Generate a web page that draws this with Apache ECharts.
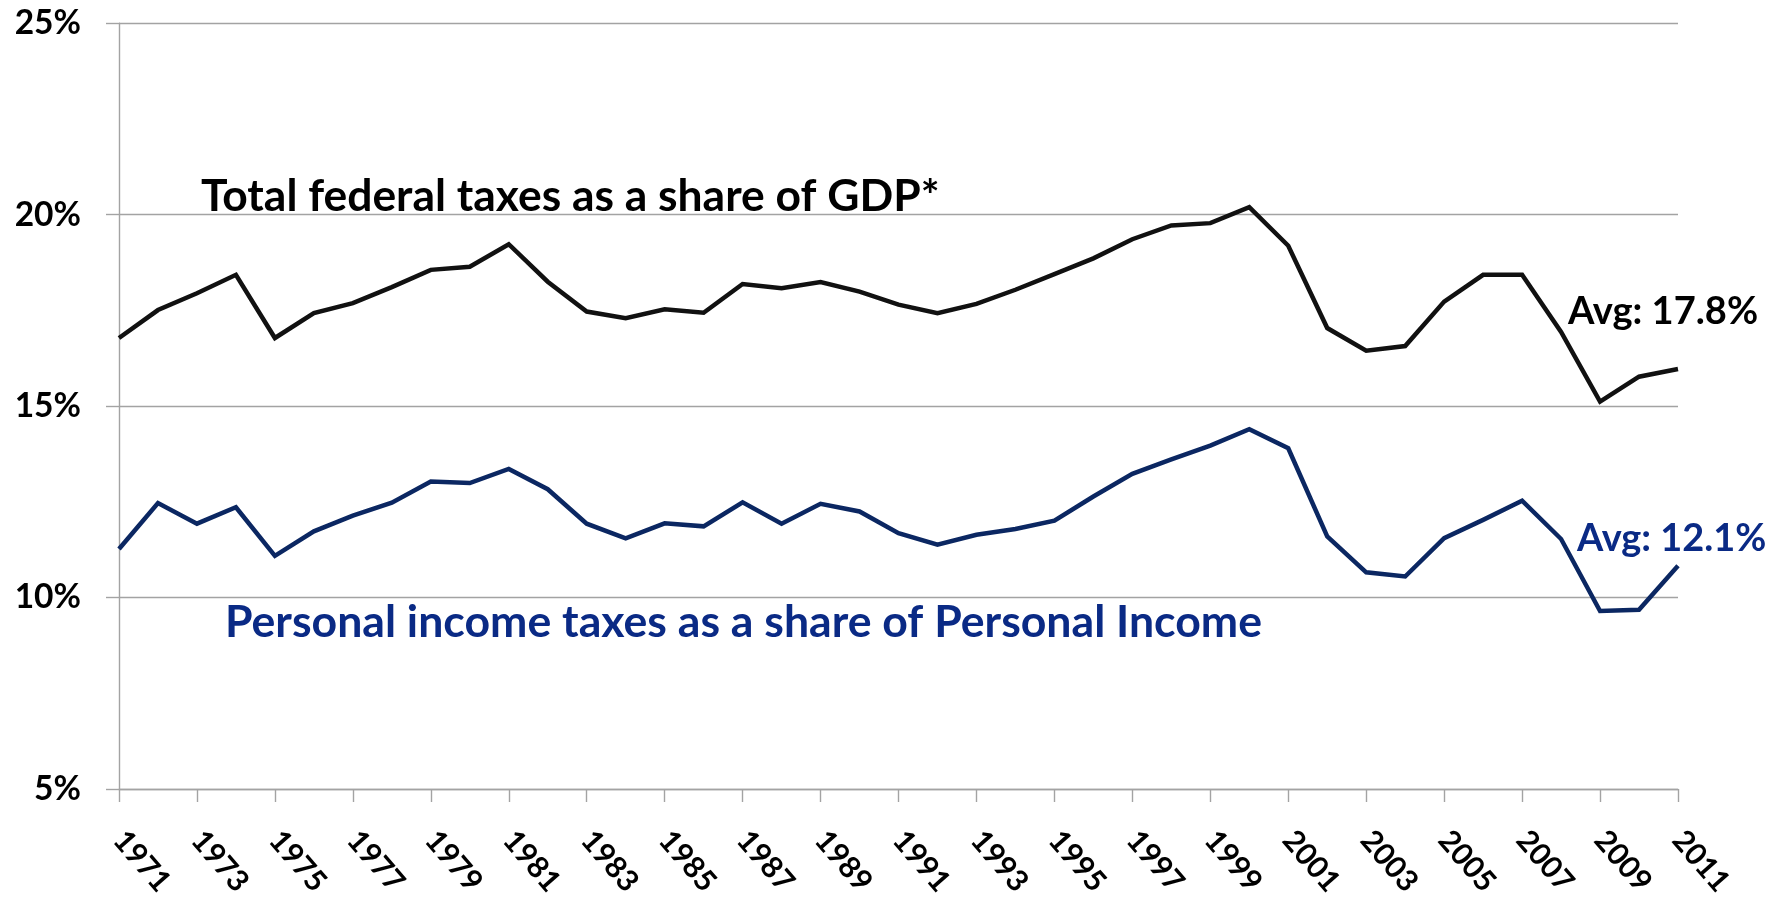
<!DOCTYPE html>
<html>
<head>
<meta charset="utf-8">
<script src="https://cdn.jsdelivr.net/npm/echarts@6/dist/echarts.min.js"></script>
<style>
html,body{margin:0;padding:0;background:#ffffff;}
#chart{width:1777px;height:905px;}
</style>
</head>
<body>
<div id="chart"></div>
<script>
const years = ['1971','1972','1973','1974','1975','1976','1977','1978','1979','1980',
  '1981','1982','1983','1984','1985','1986','1987','1988','1989','1990',
  '1991','1992','1993','1994','1995','1996','1997','1998','1999','2000',
  '2001','2002','2003','2004','2005','2006','2007','2008','2009','2010','2011'];

const totalTaxShare = [16.78, 17.51, 17.95, 18.43, 16.78, 17.43, 17.69, 18.11, 18.56, 18.64,
  19.23, 18.25, 17.47, 17.30, 17.53, 17.44, 18.19, 18.08, 18.24, 17.99,
  17.65, 17.43, 17.67, 18.04, 18.45, 18.86, 19.36, 19.72, 19.78, 20.20,
  19.19, 17.04, 16.45, 16.57, 17.73, 18.43, 18.43, 16.94, 15.12, 15.77, 15.97];

const personalTaxShare = [11.27, 12.47, 11.93, 12.36, 11.09, 11.73, 12.14, 12.48, 13.03, 12.99,
  13.36, 12.83, 11.93, 11.55, 11.94, 11.86, 12.49, 11.93, 12.45, 12.25,
  11.68, 11.38, 11.64, 11.79, 12.01, 12.64, 13.23, 13.61, 13.97, 14.40,
  13.90, 11.60, 10.66, 10.55, 11.55, 12.03, 12.53, 11.53, 9.65, 9.68, 10.83];

const yMin = 5, yMax = 25, yStep = 5;
const labelTotal = 'Total federal taxes as a share of GDP*';
const labelPersonal = 'Personal income taxes as a share of Personal Income';
const avgTotal = 'Avg: 17.8%';
const avgPersonal = 'Avg: 12.1%';

const FONT = 'Lato';
const BLACK = '#111111';
const NAVY_LINE = '#0b2762';
const NAVY_TEXT = '#0a2a85';
const GRAY = '#a3a3a3';

const chart = echarts.init(document.getElementById('chart'), null, {renderer: 'canvas'});
chart.setOption({
  animation: false,
  backgroundColor: '#ffffff',
  grid: {left: 119, right: 99, top: 23.3, bottom: 116, containLabel: false, outerBoundsMode: 'none'},
  xAxis: {
    type: 'category',
    data: years,
    boundaryGap: false,
    axisLine: {show: true, onZero: false, lineStyle: {color: GRAY, width: 1.4}},
    axisTick: {show: true, interval: 1, length: 13, lineStyle: {color: GRAY, width: 1.4}},
    axisLabel: {
      interval: 1, rotate: -49, margin: 46,
      fontFamily: FONT, fontWeight: 'bold', fontSize: 30, color: '#000'
    },
    splitLine: {show: false}
  },
  yAxis: {
    type: 'value',
    min: yMin, max: yMax, interval: yStep,
    axisLine: {show: true, lineStyle: {color: GRAY, width: 1.4}},
    axisTick: {show: true, length: 13, lineStyle: {color: GRAY, width: 1.4}},
    axisLabel: {
      formatter: '{value}%', margin: 38,
      fontFamily: FONT, fontWeight: 'bold', fontSize: 33.5, color: '#000'
    },
    splitLine: {show: true, lineStyle: {color: GRAY, width: 1.4}}
  },
  series: [
    {
      name: labelTotal, type: 'line', data: totalTaxShare,
      showSymbol: false, symbol: 'none',
      lineStyle: {color: BLACK, width: 4.5, join: 'miter'},
      z: 3
    },
    {
      name: labelPersonal, type: 'line', data: personalTaxShare,
      showSymbol: false, symbol: 'none',
      lineStyle: {color: NAVY_LINE, width: 4.5, join: 'miter'},
      z: 3
    }
  ],
  graphic: [
    {type: 'text', left: 201, top: 175, z: 10, style: {text: labelTotal, fill: '#000', font: 'bold 44.4px ' + FONT}},
    {type: 'text', left: 225, top: 600, z: 10, style: {text: labelPersonal, fill: NAVY_TEXT, font: 'bold 44.6px ' + FONT}},
    {type: 'text', left: 1568, top: 293, z: 10, style: {text: avgTotal, fill: '#000', font: 'bold 38.1px ' + FONT}},
    {type: 'text', left: 1577, top: 520, z: 10, style: {text: avgPersonal, fill: NAVY_TEXT, font: 'bold 37.9px ' + FONT}}
  ]
});
</script>
</body>
</html>
